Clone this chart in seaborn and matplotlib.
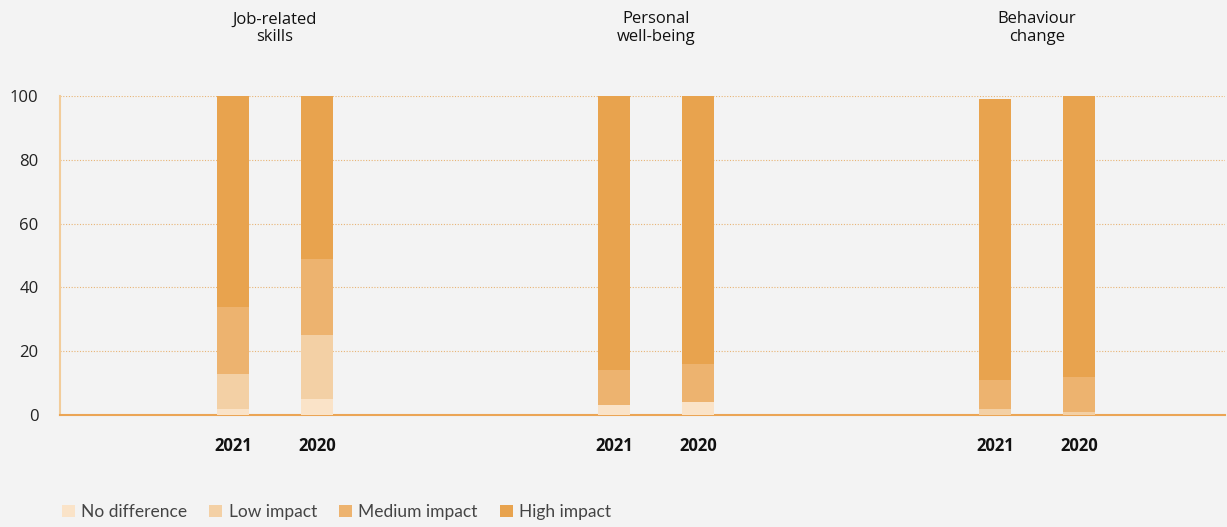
import numpy as np
import pandas as pd
import matplotlib
matplotlib.use("Agg")
import matplotlib.pyplot as plt
import matplotlib.transforms as mtransforms
from matplotlib.patches import Patch
import seaborn as sns

# ---- data ----
groups = ["Job-related\nskills", "Personal\nwell-being", "Behaviour\nchange"]
years = ["2021", "2020"]
series = ["No difference", "Low impact", "Medium impact", "High impact"]
no_difference = [2, 5, 3, 4, 0, 0]
low_impact = [11, 20, 0, 0, 2, 1]
medium_impact = [21, 24, 11, 12, 9, 11]
high_impact = [66, 51, 86, 84, 88, 88]

colors = ["#FAE3C8", "#F3D0A5", "#EDB36F", "#E8A34E"]
bg = "#F3F3F3"

group_step = 4.54
rows = []
for g in range(len(groups)):
    for j, yr in enumerate(years):
        rows.append({"group": groups[g], "year": yr, "pos": g * group_step + j})
df = pd.DataFrame(rows)
vals = np.array([no_difference, low_impact, medium_impact, high_impact], dtype=float)
cum = np.cumsum(vals, axis=0)
for i, s in enumerate(series):
    df["cum_" + s] = cum[i]

sns.set_style("white")
plt.rcParams["font.family"] = ["Open Sans", "DejaVu Sans"]

fig = plt.figure(figsize=(12.27, 5.27), dpi=100, facecolor=bg)
ax = fig.add_axes([60 / 1227, 1 - 415 / 527, (1225 - 60) / 1227, (415 - 96) / 527])
ax.set_facecolor(bg)

for i in range(len(series) - 1, -1, -1):
    sns.barplot(data=df, x="pos", y="cum_" + series[i], native_scale=True,
                color=colors[i], saturation=1, width=0.38, errorbar=None,
                linewidth=0, ax=ax, zorder=3)

ax.set_ylim(0, 100)
ax.set_xlim(-2.06, 2 * group_step + 1 + 1.74)
ax.set_yticks([0, 20, 40, 60, 80, 100])
ax.set_yticklabels(["0", "20", "40", "60", "80", "100"], color="#222222", fontsize=12)
ax.set_xticks(df["pos"])
ax.set_xticklabels(df["year"], fontsize=12, fontweight="bold", color="#111111")
ax.tick_params(axis="x", length=0, pad=16)
ax.tick_params(axis="y", length=8, color="#F0CC9C", width=0.8, pad=7.5)
ax.set_xlabel("")
ax.set_ylabel("")

for yv in [20, 40, 60, 80, 100]:
    ax.axhline(yv, color="#E8B475", linestyle=(0, (1, 1.5)), linewidth=0.8, zorder=1)

for s in ["top", "right"]:
    ax.spines[s].set_visible(False)
ax.spines["left"].set_color("#F2CC9A")
ax.spines["left"].set_linewidth(1.5)
ax.spines["bottom"].set_color("#EBA555")
ax.spines["bottom"].set_linewidth(1.5)

trans = mtransforms.blended_transform_factory(ax.transData, ax.transAxes)
for g, name in enumerate(groups):
    ax.text(g * group_step + 0.5, 1 + 68 / 319, name, transform=trans, ha="center",
            va="center", fontsize=12, color="#111111", linespacing=1.1)

handles = [Patch(facecolor=c, edgecolor="none") for c in colors]
fig.legend(handles, series, loc="center left", bbox_to_anchor=(46 / 1227, 1 - 512 / 527),
           ncol=4, frameon=False, handlelength=0.75, handleheight=0.75,
           handletextpad=0.35, columnspacing=1.3,
           prop={"family": "Lato", "size": 12.5}, labelcolor="#444444")

fig.savefig("out.png", dpi=100, facecolor=bg)
